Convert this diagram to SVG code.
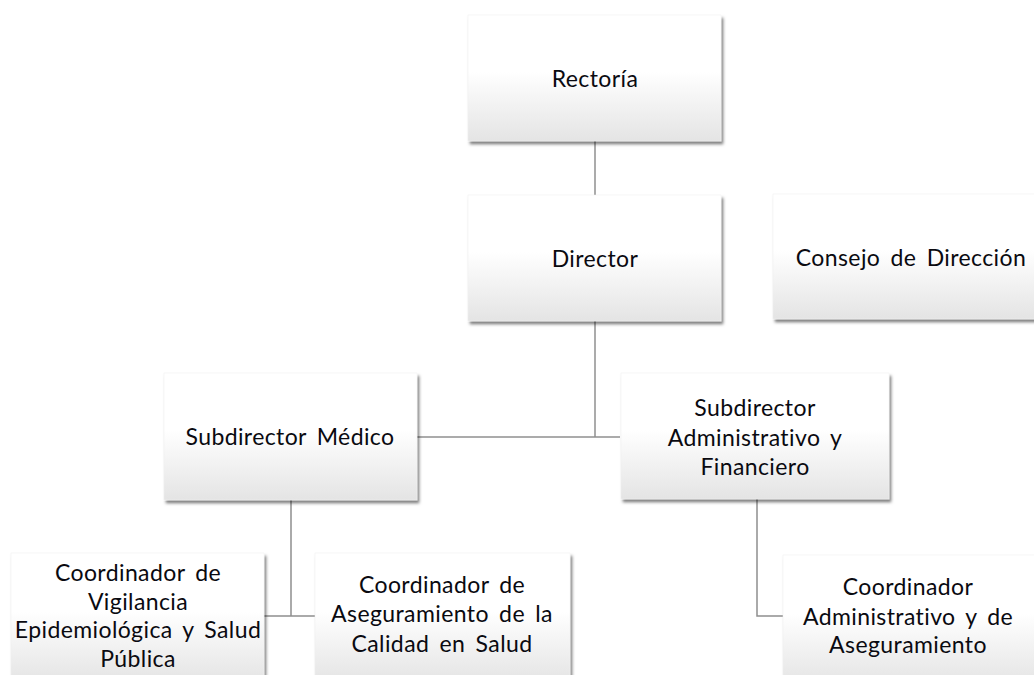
<svg xmlns="http://www.w3.org/2000/svg" width="1034" height="675" viewBox="0 0 1034 675">
<defs>
<linearGradient id="g" x1="0" y1="0" x2="0" y2="1">
<stop offset="0" stop-color="#ffffff"/>
<stop offset="0.45" stop-color="#ffffff"/>
<stop offset="1" stop-color="#e4e4e4"/>
</linearGradient>
<filter id="sh" x="-10%" y="-10%" width="130%" height="130%">
<feDropShadow dx="2" dy="3" stdDeviation="1.6" flood-color="#000" flood-opacity="0.5"/>
</filter>
</defs>
<style>
.box{fill:url(#g);filter:url(#sh);stroke:#f0f0f0;stroke-width:0.5}
.t{font-family:Lato,"Open Sans","Liberation Sans",sans-serif;font-size:23px;letter-spacing:0.4px;word-spacing:4px;fill:#0a0a10;text-anchor:middle}
.c{stroke:#8f8f8f;stroke-width:1.5;fill:none}
</style>
<rect width="1034" height="675" fill="#ffffff"/>
<g id="connectors">
<path class="c" d="M595 141V195"/>
<path class="c" d="M595 321V437"/>
<path class="c" d="M417 437H620"/>
<path class="c" d="M291 500V616M264 616H315"/>
<path class="c" d="M757 499V616H783"/>
</g>
<g id="rectoria">
<rect class="box" x="468" y="15" width="253" height="126"/>
<text class="t" x="595" y="87">Rectoría</text>
</g>
<g id="director">
<rect class="box" x="468" y="195" width="253" height="126"/>
<text class="t" x="595" y="267">Director</text>
</g>
<g id="consejo">
<rect class="box" x="773" y="194" width="276" height="125"/>
<text class="t" x="911" y="266">Consejo de Dirección</text>
</g>
<g id="subdirector-medico">
<rect class="box" x="164" y="373" width="253" height="127"/>
<text class="t" x="290" y="445">Subdirector Médico</text>
</g>
<g id="subdirector-administrativo">
<rect class="box" x="621" y="373" width="268" height="126"/>
<text class="t" x="755" y="416">Subdirector</text>
<text class="t" x="755" y="446">Administrativo y</text>
<text class="t" x="755" y="475">Financiero</text>
</g>
<g id="coord-vigilancia">
<rect class="box" x="11" y="553" width="253" height="130"/>
<text class="t" x="138" y="581">Coordinador de</text>
<text class="t" x="138" y="610">Vigilancia</text>
<text class="t" x="138" y="638">Epidemiológica y Salud</text>
<text class="t" x="138" y="667">Pública</text>
</g>
<g id="coord-calidad">
<rect class="box" x="315" y="553" width="255" height="130"/>
<text class="t" x="442" y="593">Coordinador de</text>
<text class="t" x="442" y="622">Aseguramiento de la</text>
<text class="t" x="442" y="652">Calidad en Salud</text>
</g>
<g id="coord-administrativo">
<rect class="box" x="783" y="555" width="265" height="130"/>
<text class="t" x="908" y="595">Coordinador</text>
<text class="t" x="908" y="625">Administrativo y de</text>
<text class="t" x="908" y="653">Aseguramiento</text>
</g>
</svg>
